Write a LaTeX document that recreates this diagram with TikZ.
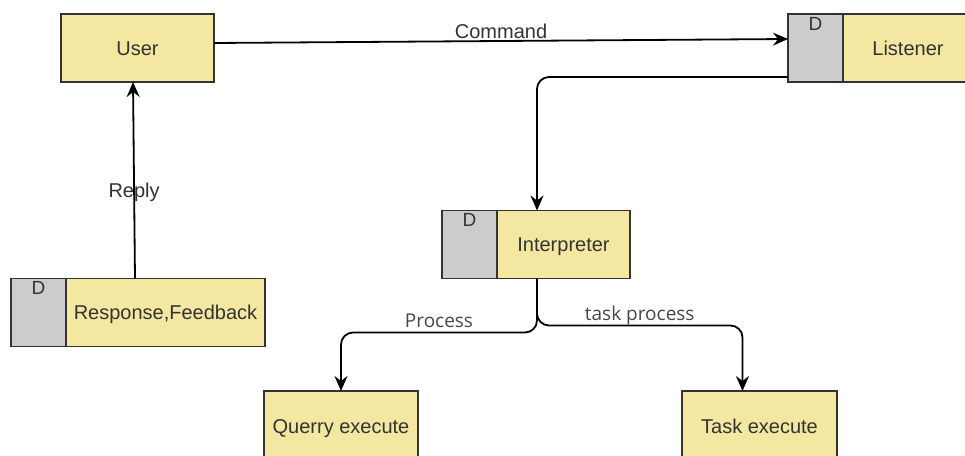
\documentclass[tikz,border=0pt]{standalone}
\usepackage{fontspec}
\setmainfont{Liberation Sans}
\newfontfamily\labelfont{Open Sans}
\usetikzlibrary{positioning}
\usetikzlibrary{arrows.meta}
\usepackage{xcolor}
\definecolor{boxyellow}{HTML}{F3E7A1}
\definecolor{boxgray}{HTML}{CCCCCC}
\definecolor{boxline}{HTML}{333333}
\definecolor{txtgray}{HTML}{333333}

\begin{document}
\begin{tikzpicture}[x=1pt, y=-1pt]
                        % one unit = one pixel of the sketch, y runs downwards
                        \tikzstyle{every node}=[font=\fontsize{20}{24}\selectfont, text=txtgray]
                        \tikzstyle{yellowbox}=[rectangle, draw=boxline, line width=1.8pt, fill=boxyellow, outer sep=0pt, minimum height=68pt,
                                text height=14pt, text depth=0pt]
                        \tikzstyle{dbox}=[rectangle, draw=boxline, line width=1.8pt, fill=boxgray, outer sep=0pt, minimum width=55pt, minimum height=68pt,
                                label={[anchor=north, inner sep=3pt, font=\fontsize{19}{21}\selectfont, text=txtgray]north:D}]
                        \tikzstyle{flow}=[-{Stealth[length=15pt, width=13pt, inset=5pt]}, draw=black, line width=1.8pt, rounded corners=12pt]
                        \tikzstyle{flowlabel}=[font=\labelfont\fontsize{19}{22}\selectfont, text=txtgray!90, text height=14pt, text depth=0pt]
                        \useasboundingbox (0,0) rectangle (965,455);

                        \node[yellowbox, minimum width=153pt] (user) at (137.5,48) {User};
                        \node[dbox] (lisD) at (815.5,48) {};
                        \node[yellowbox, minimum width=130pt, right=0pt of lisD] (lis) {Listener};
                        \node[dbox] (intpD) at (469.5,244.5) {};
                        \node[yellowbox, minimum width=133pt, right=0pt of intpD] (intp) {Interpreter};
                        \node[dbox] (respD) at (38.5,312.5) {};
                        \node[yellowbox, minimum width=199pt, right=0pt of respD] (resp) {Response,Feedback};
                        \node[yellowbox, minimum width=154pt, minimum height=70pt] (qry) at (341,426) {Querry execute};
                        \node[yellowbox, minimum width=155pt, minimum height=70pt] (task) at (759.5,426) {Task execute};

                        \draw[flow] ([yshift=5pt]user.east) -- node[above=-2pt, text height=14pt, text depth=0pt] {Command} ([yshift=9pt]lisD.west);

                        \draw[flow] ([yshift=-29pt]lisD.west) -| ([xshift=-26.5pt]intp.north);

                        \draw[flow] ([xshift=-26.5pt]intp.south) -- ++(0,54)
                                -| node[pos=0.25, above=1pt, flowlabel] {Process} (qry.north);

                        \draw[flow] ([xshift=-26.5pt]intp.south) -- ++(0,47)
                                -| node[pos=0.25, above=1pt, flowlabel] {task process} ([xshift=-17pt]task.north);

                        \draw[flow] ([xshift=-30.5pt]resp.north) -- node[pos=0.44] {Reply} ([xshift=-4.5pt]user.south);

\end{tikzpicture}
\end{document}
